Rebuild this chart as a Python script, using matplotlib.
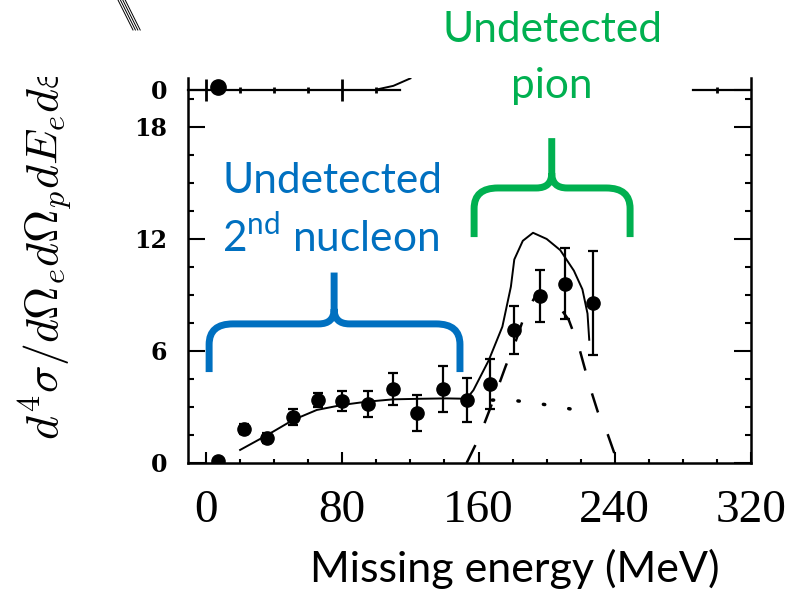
import matplotlib
matplotlib.use("Agg")
import matplotlib.pyplot as plt
from matplotlib.path import Path
from matplotlib.patches import PathPatch
from matplotlib.lines import Line2D
from matplotlib.transforms import Bbox, TransformedBbox

# measured points: missing energy (MeV) vs cross section
energy = [7, 22, 36, 51, 66, 80, 95, 110, 124, 139, 153, 167, 181, 196, 211, 227]
xsec = [0.1, 1.82, 1.34, 2.46, 3.37, 3.32, 3.16, 3.96, 2.68, 3.96, 3.37, 4.23, 7.12, 8.94, 9.59, 8.57]
xsec_err = [0, 0.25, 0.25, 0.45, 0.36, 0.56, 0.71, 0.85, 0.94, 1.22, 1.16, 1.34, 1.3, 1.4, 1.9, 2.8]

# full calculation (solid)
total_x = [20, 36, 51, 65, 80, 94, 110, 126, 141, 153, 157, 166, 174, 179, 181, 186, 192, 200, 208, 216, 221, 224, 225]
total_y = [0.7, 1.5, 2.3, 2.84, 3.11, 3.28, 3.41, 3.44, 3.46, 3.44, 3.9, 5.5, 7.3, 9.44, 10.9, 11.9, 12.33, 12.0, 11.4, 10.3, 9.3, 8.0, 6.6]

# pion production part (dashed)
pion_x = [153, 160, 168, 176, 181, 187, 195, 206, 213, 219, 222, 226, 230, 236, 241]
pion_y = [0, 1.3, 3.2, 5.2, 6.3, 7.9, 9.2, 8.55, 7.66, 6.2, 5.2, 3.9, 2.75, 1.5, 0.2]

# two-nucleon part continued (dotted)
nn_x = [153, 167, 179, 194, 208, 222]
nn_y = [3.44, 3.37, 3.37, 3.2, 3.0, 2.75]

# remains of the panel above
upper_dot_x = [7]
upper_dot_y = [20.15]
upper_curve_x = [101, 110, 120]
upper_curve_y = [20.02, 20.2, 20.6]
upper_baseline = [(-10.6, 114), (286, 320)]
upper_major_x = [0, 80]
upper_minor_x = [20, 40, 60, 100, 300]

x_ticks = [0, 80, 160, 240, 320]
y_ticks = [0, 6, 12, 18, 20]
y_tick_labels = ['0', '6', '12', '18', '0']

# braces: x left, x middle, x right, y of tips, y of bar, y of top
nucleon_brace = (1.8, 75.2, 149.1, 4.87, 7.45, 10.2)
pion_brace = (157.4, 203, 249, 12.1, 14.73, 17.4)

BLUE = '#0070C0'
GREEN = '#00B050'
W, H = 796, 593


def brace_path(xl, xm, xr, y0, y1, y2, rx=14, ry=1.1, cx=9, cy=0.8):
    verts = [(xl, y0), (xl, y1 - ry), (xl, y1), (xl + rx, y1),
             (xm - cx, y1), (xm, y1), (xm, y1 + cy), (xm, y2),
             (xm, y1 + cy), (xm, y1), (xm + cx, y1),
             (xr - rx, y1), (xr, y1), (xr, y1 - ry), (xr, y0)]
    codes = [Path.MOVETO, Path.LINETO, Path.CURVE3, Path.CURVE3,
             Path.LINETO, Path.CURVE3, Path.CURVE3, Path.LINETO,
             Path.MOVETO, Path.CURVE3, Path.CURVE3,
             Path.LINETO, Path.CURVE3, Path.CURVE3, Path.LINETO]
    return Path(verts, codes)


def fx(px):
    return px / W


def fy(py):
    return 1 - py / H


fig = plt.figure(figsize=(7.96, 5.93), dpi=100)
ax = fig.add_axes([fx(188), fy(463), fx(751) - fx(188), fy(78) - fy(463)])
ax.set_xlim(-10.6, 320)
ax.set_ylim(0, 20.62)

ax.plot(total_x, total_y, color='black', lw=1.4)
ax.plot(pion_x, pion_y, color='black', lw=1.8, linestyle=(0, (8, 9.5)))
ax.plot(nn_x, nn_y, color='black', lw=2.5, linestyle=(0, (0.4, 7)),
        dash_capstyle='round')
ax.errorbar(energy, xsec, yerr=xsec_err, fmt='o', color='black', ms=9.5,
            capsize=3.6, elinewidth=1.6, capthick=1.6)

# bottom of the upper panel
for x0, x1 in upper_baseline:
    ax.plot([x0, x1], [20, 20], color='black', lw=1.6, clip_on=False)
ax.plot(upper_curve_x, upper_curve_y, color='black', lw=1.4)
ax.plot(upper_dot_x, upper_dot_y, 'o', color='black', ms=11, clip_on=False)
ax.plot(upper_major_x, [20] * len(upper_major_x), '|', color='black', ms=16, mew=2)
ax.plot(upper_minor_x, [20] * len(upper_minor_x), '|', color='black', ms=5, mew=2)

for spine in ['left', 'right', 'bottom']:
    ax.spines[spine].set_linewidth(1.8)
ax.spines['top'].set_visible(False)

ax.set_xticks(x_ticks)
ax.set_xticks(range(0, 321, 20), minor=True)
ax.set_xticklabels([str(v) for v in x_ticks], family='Liberation Serif', fontsize=34)
ax.set_yticks(y_ticks)
ax.set_yticks([v * 1.5 for v in range(1, 14)], minor=True)
ax.set_yticklabels(y_tick_labels, family='DejaVu Serif', fontweight='bold', fontsize=17)
ax.tick_params(axis='x', which='major', direction='in', length=8, width=1.5, pad=19)
ax.tick_params(axis='x', which='minor', direction='in', length=3, width=1.5)
ax.tick_params(axis='y', which='major', direction='in', length=12, width=1.5,
               pad=15, right=True)
ax.tick_params(axis='y', which='minor', direction='in', length=4, width=1.5, right=True)

for b, col in [(nucleon_brace, BLUE), (pion_brace, GREEN)]:
    ax.add_patch(PathPatch(brace_path(*b), facecolor='none', edgecolor=col,
                           lw=5, joinstyle='round', capstyle='butt', clip_on=False))

# annotations
fig.text(fx(222), fy(193), 'Undetected', color=BLUE, family='Lato', fontsize=30.5,
         ha='left', va='baseline')
fig.text(fx(222), fy(252), r'2$^{\mathdefault{nd}}$ nucleon', color=BLUE, family='Lato',
         fontsize=30.5, ha='left', va='baseline')
fig.text(fx(552), fy(42), 'Undetected', color=GREEN, family='Lato', fontsize=30.5,
         ha='center', va='baseline')
fig.text(fx(552), fy(98), 'pion', color=GREEN, family='Lato', fontsize=30.5,
         ha='center', va='baseline')

fig.text(fx(515), fy(582), 'Missing energy (MeV)', family='Lato', fontsize=31,
         ha='center', va='baseline')

ylab = fig.text(fx(46), fy(440),
                r'$d^4\sigma/d\Omega_e d\Omega_p dE_e d\varepsilon_\pi$',
                rotation=90, ha='center', va='bottom', fontsize=33,
                math_fontfamily='cm')
ylab.set_clip_box(TransformedBbox(Bbox.from_extents(0, 0, 1, fy(77)), fig.transFigure))
ylab.set_clip_on(True)

# scan remnant in the corner
for k in range(4):
    fig.add_artist(Line2D([fx(118 + 2.4 * k), fx(133 + 2.4 * k)], [fy(0), fy(30)],
                          color='black', lw=0.7))

fig.savefig('out.png', dpi=100)
